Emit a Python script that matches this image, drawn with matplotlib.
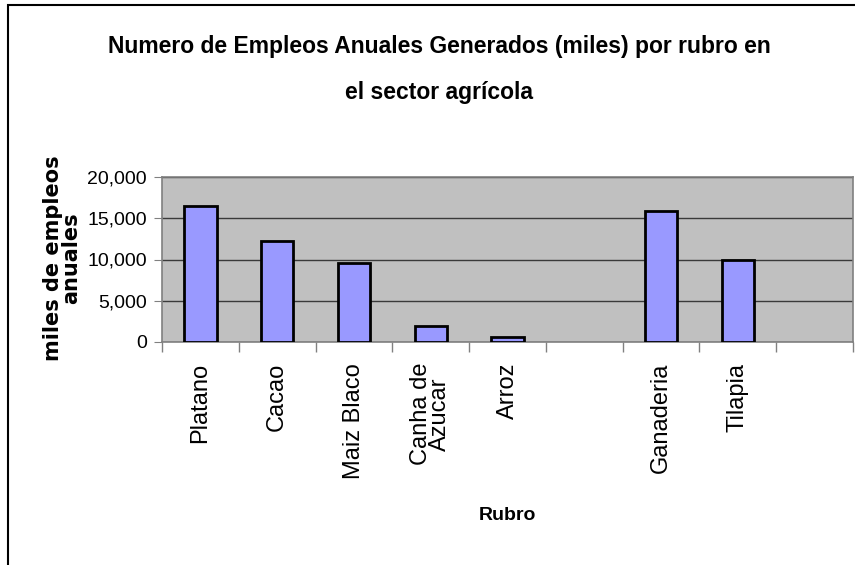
import numpy as np
import matplotlib.pyplot as plt
from matplotlib.patches import Rectangle

# Datos (miles de empleos anuales por rubro)
rubros = ["Platano", "Cacao", "Maiz Blaco", "Canha de\nAzucar", "Arroz", "",
          "Ganaderia", "Tilapia", ""]
empleos = [16500, 12200, 9600, 1900, 600, np.nan, 15900, 9900, np.nan]
yticks = [0, 5000, 10000, 15000, 20000]

plt.rcParams['font.family'] = ['Liberation Sans', 'DejaVu Sans']

fig = plt.figure(figsize=(8.55, 5.65), dpi=100)
ax = fig.add_axes([162 / 855, 1 - 342 / 565, 691 / 855, 165 / 565])

x = np.arange(len(rubros))
mask = ~np.isnan(empleos)
ax.bar(x[mask], np.array(empleos)[mask], width=0.42, color="#9999FF",
       edgecolor="black", linewidth=2, zorder=3)

ax.set_facecolor("#C0C0C0")
ax.set_xlim(-0.5, len(rubros) - 0.5)
ax.set_ylim(0, 20000)
ax.set_yticks(yticks)
ax.set_yticklabels([f"{v:,}" for v in yticks], fontsize=14)
ax.yaxis.grid(True, color="#3a3a3a", linewidth=1, zorder=0)
ax.set_axisbelow(True)

# marcas entre categorías, etiquetas en el centro
ax.set_xticks(np.arange(len(rubros) + 1) - 0.5)
ax.set_xticklabels([])
ax.set_xticks(x, minor=True)
ax.set_xticklabels(rubros, minor=True, rotation=90, fontsize=17,
                   va="top", ha="center", linespacing=0.85)
ax.tick_params(axis="x", which="minor", length=0, pad=15)
ax.tick_params(axis="x", which="major", length=7, color="#808080", width=1)
ax.tick_params(axis="y", length=6, color="#808080", pad=5)

for s in ax.spines:
    ax.spines[s].set_color("#808080")
    ax.spines[s].set_linewidth(1.2)

fig.text(439 / 855, 1 - 46 / 565, "Numero de Empleos Anuales Generados (miles) por rubro en",
         ha="center", va="center", fontsize=16.5, fontweight="bold")
fig.text(439 / 855, 1 - 93 / 565, "el sector agrícola",
         ha="center", va="center", fontsize=16.5, fontweight="bold")

fig.text(62 / 855, 1 - 258 / 565, "miles de empleos\nanuales", rotation=90,
         ha="center", va="center", fontsize=15, fontweight="bold",
         family=["DejaVu Sans"], multialignment="center", linespacing=0.85)

fig.text(507 / 855, 1 - 516 / 565, "Rubro", ha="center", va="center",
         fontsize=14, fontweight="bold")

# marco del área del gráfico (solo se ven los bordes izquierdo y superior)
fig.patches.append(Rectangle((8 / 855, -0.05), 1.2, 1 - 5 / 565 + 0.05,
                             transform=fig.transFigure, fill=False,
                             edgecolor="black", linewidth=1.5))

fig.savefig("out.png", dpi=100)
